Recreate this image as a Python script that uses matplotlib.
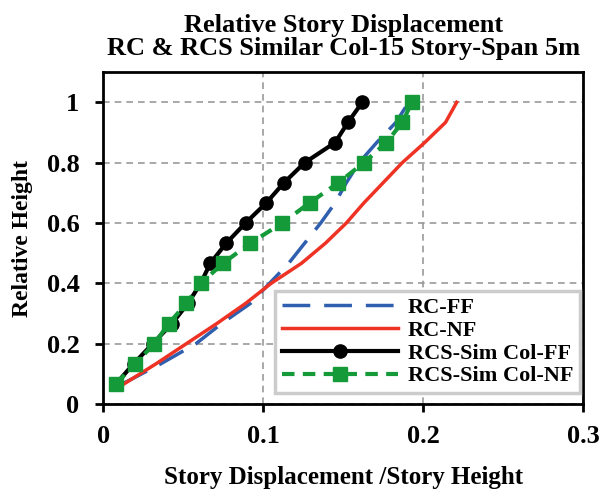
import matplotlib
matplotlib.use("Agg")
from matplotlib import pyplot as plt

# story heights (15 stories)
height = [1/15, 2/15, 3/15, 4/15, 5/15, 6/15, 7/15, 8/15, 9/15, 10/15,
          11/15, 12/15, 13/15, 14/15, 1.0]

rc_ff = [0.012, 0.036, 0.058, 0.074, 0.092, 0.104, 0.116, 0.126, 0.136, 0.145,
         0.152, 0.160, 0.171, 0.183, 0.191]
rc_nf = [0.013, 0.033, 0.052, 0.071, 0.089, 0.105, 0.124, 0.139, 0.152, 0.163,
         0.175, 0.187, 0.201, 0.214, 0.221]
rcs_ff = [0.008, 0.019, 0.031, 0.043, 0.053, 0.061, 0.067, 0.077, 0.089, 0.102,
          0.113, 0.126, 0.145, 0.153, 0.162]
rcs_nf = [0.008, 0.020, 0.032, 0.041, 0.052, 0.061, 0.075, 0.092, 0.112, 0.129,
          0.147, 0.163, 0.177, 0.187, 0.193]

xticks = [0, 0.1, 0.2, 0.3]
xlabels = ["0", "0.1", "0.2", "0.3"]
yticks = [0, 0.2, 0.4, 0.6, 0.8, 1.0]
ylabels = ["0", "0.2", "0.4", "0.6", "0.8", "1"]

plt.rcParams["font.family"] = ["Liberation Serif", "DejaVu Serif"]
plt.rcParams["font.weight"] = "bold"

fig = plt.figure(figsize=(6.03, 4.94), dpi=100)
ax = fig.add_axes([0.171, 0.182, 0.796, 0.672])

ax.plot(rc_ff, height, color="#2f5fae", lw=2.5, dashes=(8, 4), label="RC-FF")
ax.plot(rc_nf, height, color="#ee3224", lw=2.5, label="RC-NF")
ax.plot(rcs_ff, height, color="black", lw=3, marker="o", ms=9.5, label="RCS-Sim Col-FF")
ax.plot(rcs_nf, height, color="#159a3a", lw=3, dashes=(3, 2), marker="s", ms=9.5,
        label="RCS-Sim Col-NF")

ax.set_xlim(0, 0.3)
ax.set_ylim(0, 1.1)
ax.set_xticks(xticks)
ax.set_xticklabels(xlabels, fontsize=19, fontweight="bold")
ax.set_yticks(yticks)
ax.set_yticklabels(ylabels, fontsize=19, fontweight="bold")
ax.tick_params(direction="out", width=2, length=6)
ax.tick_params(axis="x", pad=9)
ax.tick_params(axis="y", pad=11)
for s in ax.spines.values():
    s.set_linewidth(2)
ax.grid(True, color="#999999", ls=(0, (4, 3)), lw=1.2)

ax.set_title("Relative Story Displacement\nRC & RCS Similar Col-15 Story-Span 5m",
             fontsize=19, fontweight="bold", pad=12, linespacing=1.05)
ax.set_xlabel("Story Displacement /Story Height", fontsize=18, fontweight="bold", labelpad=13)
ax.set_ylabel("Relative Height", fontsize=17, fontweight="bold", labelpad=10)

leg = ax.legend(loc="lower right", fontsize=16, handlelength=5.2, handletextpad=0.45,
                framealpha=1, fancybox=False, edgecolor="#cccccc", borderpad=0.3,
                labelspacing=0.1, borderaxespad=0, bbox_to_anchor=(0.993, 0.033))
leg.get_frame().set_linewidth(2.5)
for t in leg.get_texts():
    t.set_fontweight("bold")

fig.savefig("out.png", dpi=100)
